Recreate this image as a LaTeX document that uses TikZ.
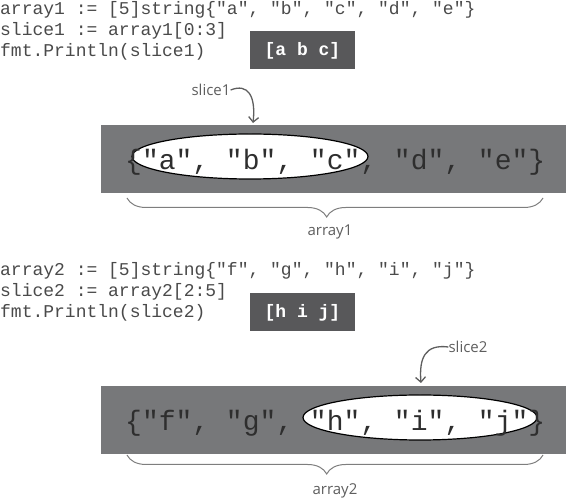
\documentclass[tikz,border=0pt]{standalone}
\usepackage{fontspec}
\newfontfamily\codefont{Liberation Mono}
\newfontfamily\notefont{Open Sans}
\usetikzlibrary{shapes.geometric,arrows.meta,decorations.pathreplacing}

\definecolor{bandgray}{HTML}{77787A}
\definecolor{boxgray}{HTML}{58585A}
\definecolor{codegray}{HTML}{4A4A4A}
\definecolor{valgray}{HTML}{2E2E2E}
\definecolor{inkgray}{HTML}{5E5E5E}

\tikzset{
  codeline/.style={anchor=base west,inner sep=0pt,text=codegray,font=\codefont\fontsize{18}{20}\selectfont},
  outbox/.style={fill=boxgray,text=white,minimum width=105pt,minimum height=38pt,inner sep=0pt,font=\codefont\bfseries\fontsize{18}{20}\selectfont},
  band/.style={fill=bandgray,minimum width=465pt,minimum height=68pt,inner sep=0pt},
  slicering/.style={ellipse,draw=black,line width=1.2pt,fill=white,inner sep=0pt,minimum height=45pt},
  vals/.style={anchor=base west,inner sep=0pt,text=valgray,font=\codefont\fontsize{28}{30}\selectfont},
  note/.style={inner sep=0pt,text=inkgray,font=\notefont\fontsize{15}{17}\selectfont},
  pointer/.style={draw=inkgray,line width=1.3pt,-{Straight Barb[length=5pt,width=10pt]}},
  arraybrace/.style={draw=inkgray!80,line width=1pt,decorate,decoration={brace,mirror,amplitude=19pt,aspect=0.48}}
}

\begin{document}
\begin{tikzpicture}[x=1pt,y=-1pt]
  \useasboundingbox (0,0) rectangle (566,502);

  % first array
  \node[codeline] (a1) at (0,15) {array1 := [5]string\{"a", "b", "c", "d", "e"\}};
  \node[codeline] (s1) at (0,36) {slice1 := array1[0:3]};
  \node[codeline] (p1) at (0,57) {fmt.Println(slice1)};
  \node[outbox] (out1) at (302.5,50.5) {[a b c]};

  \node[band] (band1) at (333.5,159) {};
  \node[slicering,minimum width=236pt] (ring1) at (250,156.5) {};
  \node[vals] (vals1) at (125,170) {\{"a", "b", "c", "d", "e"\}};

  \node[note] (lbl1) at (211,90) {slice1};
  \coordinate (tip1) at (253,123);
  \draw[pointer] (lbl1.east) .. controls (248,83) and (256,96) .. (tip1);

  \coordinate (b1l) at (127,198);
  \coordinate (b1r) at (543,198);
  \draw[arraybrace] (b1l) -- (b1r);
  \node[note] (name1) at (330,232) {array1};

  % second array
  \node[codeline] (a2) at (0,276) {array2 := [5]string\{"f", "g", "h", "i", "j"\}};
  \node[codeline] (s2) at (0,297) {slice2 := array2[2:5]};
  \node[codeline] (p2) at (0,318) {fmt.Println(slice2)};
  \node[outbox] (out2) at (302.5,312.5) {[h i j]};

  \node[band] (band2) at (333.5,420) {};
  \node[slicering,minimum width=234pt] (ring2) at (420,417.5) {};
  \node[vals] (vals2) at (125,431) {\{"f", "g", "h", "i", "j"\}};

  \node[note] (lbl2) at (468,347) {slice2};
  \coordinate (tip2) at (421,383);
  \draw[pointer] (lbl2.west) .. controls (425,344) and (419,358) .. (tip2);

  \coordinate (b2l) at (127,455);
  \coordinate (b2r) at (543,455);
  \draw[arraybrace] (b2l) -- (b2r);
  \node[note] (name2) at (335,491) {array2};
\end{tikzpicture}
\end{document}
